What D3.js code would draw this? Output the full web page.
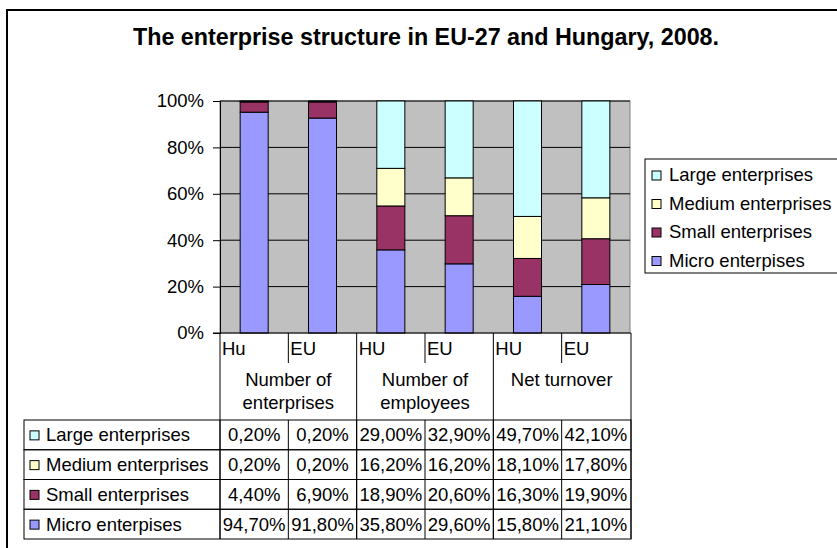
<!DOCTYPE html>
<html lang="en">
  <head>
    <meta charset="utf-8" />
    <title>Enterprise structure</title>
    <script src="https://d3js.org/d3.v7.min.js"></script>
    <style>
      body { margin: 0; background: white; }
      text { font-family: "Liberation Sans", Arial, sans-serif; fill: black; }
    </style>
  </head>
  <body>
    <div id="chart"></div>
    <script>
      // data
      var categories = ["Hu", "EU", "HU", "EU", "HU", "EU"];
      var groups = [["Number of", "enterprises"], ["Number of", "employees"], ["Net turnover"]];
      var seriesNames = ["Micro enterpises", "Small enterprises", "Medium enterprises", "Large enterprises"];
      var micro = [94.7, 91.8, 35.8, 29.6, 15.8, 21.1];
      var small = [4.4, 6.9, 18.9, 20.6, 16.3, 19.9];
      var medium = [0.2, 0.2, 16.2, 16.2, 18.1, 17.8];
      var large = [0.2, 0.2, 29.0, 32.9, 49.7, 42.1];
      var yTicks = [0, 0.2, 0.4, 0.6, 0.8, 1];

      var colors = ["#9999FF", "#993366", "#FFFFCC", "#CCFFFF"];
      var values = [micro, small, medium, large];

      var rows = categories.map(function (c, i) {
        var r = { i: i };
        seriesNames.forEach(function (s, k) { r[s] = values[k][i]; });
        return r;
      });

      var width = 837, height = 548;
      var plotL = 220, plotR = 630, plotT = 101, plotB = 333;
      var tableLeft = 24;
      var rowTop = 420, rowH = 29.75;
      var fs = "18.5px";

      var svg = d3.select("#chart").append("svg")
        .attr("width", width).attr("height", height);

      // outer frame (cut off on right and bottom)
      svg.append("rect")
        .attr("x", 7).attr("y", 10)
        .attr("width", 900).attr("height", 600)
        .attr("fill", "white").attr("stroke", "black").attr("stroke-width", 2);

      svg.append("text")
        .attr("x", 426).attr("y", 45)
        .attr("text-anchor", "middle")
        .style("font-size", "23.3px").style("font-weight", "bold")
        .text("The enterprise structure in EU-27 and Hungary, 2008.");

      var x = d3.scaleBand().domain(d3.range(categories.length)).range([plotL, plotR]).padding(0);
      var y = d3.scaleLinear().domain([0, 1]).range([plotB, plotT]);
      var barW = x.bandwidth() * 0.41;

      // plot area
      svg.append("rect")
        .attr("x", plotL).attr("y", plotT)
        .attr("width", plotR - plotL).attr("height", plotB - plotT)
        .attr("fill", "#C0C0C0").attr("stroke", "#808080");

      // gridlines
      svg.append("g").selectAll("line").data(yTicks.slice(1)).join("line")
        .attr("x1", plotL).attr("x2", plotR)
        .attr("y1", function (d) { return y(d); })
        .attr("y2", function (d) { return y(d); })
        .attr("stroke", "black").attr("stroke-width", 1);

      var yAxis = svg.append("g")
        .attr("transform", "translate(" + plotL + ",0)")
        .call(d3.axisLeft(y).tickValues(yTicks).tickFormat(d3.format(".0%")).tickSize(7).tickPadding(9));
      yAxis.select(".domain").attr("stroke", "black");
      yAxis.selectAll("text").style("font-size", fs)
        .style("font-family", "'Liberation Sans', Arial, sans-serif");

      var stack = d3.stack().keys(seriesNames).offset(d3.stackOffsetExpand);
      var stacked = stack(rows);

      svg.append("g").selectAll("g").data(stacked).join("g")
        .attr("fill", function (d, k) { return colors[k]; })
        .selectAll("rect").data(function (d) { return d; }).join("rect")
        .attr("x", function (d) { return x(d.data.i) + (x.bandwidth() - barW) / 2; })
        .attr("width", barW)
        .attr("y", function (d) { return y(d[1]); })
        .attr("height", function (d) { return y(d[0]) - y(d[1]); })
        .attr("stroke", "black").attr("stroke-width", 1);

      // axis line at 0%
      svg.append("line")
        .attr("x1", plotL - 7).attr("x2", plotR + 1)
        .attr("y1", plotB).attr("y2", plotB)
        .attr("stroke", "black");

      // data table
      var tbl = svg.append("g");
      var tableBottom = rowTop + rowH * seriesNames.length;

      // category labels
      tbl.selectAll("text.cat").data(categories).join("text")
        .attr("class", "cat")
        .attr("x", function (d, i) { return x(i) + 2; })
        .attr("y", 355)
        .style("font-size", fs)
        .text(function (d) { return d; });

      // short dividers within groups
      tbl.selectAll("line.short").data([1, 3, 5]).join("line")
        .attr("class", "short")
        .attr("x1", function (d) { return x(d); }).attr("x2", function (d) { return x(d); })
        .attr("y1", plotB).attr("y2", 363)
        .attr("stroke", "black");

      // group dividers
      tbl.selectAll("line.group").data([0, 2, 4, 6]).join("line")
        .attr("class", "group")
        .attr("x1", function (d) { return d < 6 ? x(d) : plotR + 1; })
        .attr("x2", function (d) { return d < 6 ? x(d) : plotR + 1; })
        .attr("y1", plotB).attr("y2", tableBottom)
        .attr("stroke", "black");

      // group labels
      groups.forEach(function (g, gi) {
        var cx = x(gi * 2) + x.bandwidth();
        g.forEach(function (line, li) {
          tbl.append("text")
            .attr("x", cx).attr("y", 386 + li * 23)
            .attr("text-anchor", "middle")
            .style("font-size", fs)
            .text(line);
        });
      });

      var fmt = d3.formatLocale({ decimal: ",", thousands: " ", grouping: [3], currency: ["", ""] }).format(".2f");
      var order = [3, 2, 1, 0];

      order.forEach(function (k, r) {
        var ry = rowTop + r * rowH;
        tbl.append("rect")
          .attr("x", tableLeft).attr("y", ry)
          .attr("width", plotR + 1 - tableLeft).attr("height", rowH)
          .attr("fill", "none").attr("stroke", "black");
        tbl.append("rect")
          .attr("x", 30).attr("y", ry + rowH / 2 - 4)
          .attr("width", 9).attr("height", 9)
          .attr("fill", colors[k]).attr("stroke", "black");
        tbl.append("text")
          .attr("x", 46).attr("y", ry + rowH / 2)
          .attr("dy", "0.35em")
          .style("font-size", fs)
          .text(seriesNames[k]);
        tbl.selectAll(null).data(values[k]).join("text")
          .attr("x", function (d, i) { return x(i) + x.bandwidth() / 2; })
          .attr("y", ry + rowH / 2)
          .attr("dy", "0.35em")
          .attr("text-anchor", "middle")
          .style("font-size", fs)
          .text(function (d) { return fmt(d) + "%"; });
      });

      // inner vertical cell borders in table rows
      tbl.selectAll("line.cell").data(d3.range(categories.length)).join("line")
        .attr("class", "cell")
        .attr("x1", function (d) { return x(d); }).attr("x2", function (d) { return x(d); })
        .attr("y1", rowTop).attr("y2", tableBottom)
        .attr("stroke", "black");

      // legend
      var lg = svg.append("g").attr("transform", "translate(645,159)");
      lg.append("rect")
        .attr("x", 0).attr("y", 0).attr("width", 260).attr("height", 114)
        .attr("fill", "white").attr("stroke", "black");
      order.forEach(function (k, r) {
        var ly = 16 + r * 28.5;
        lg.append("rect")
          .attr("x", 7).attr("y", ly - 4)
          .attr("width", 9).attr("height", 9)
          .attr("fill", colors[k]).attr("stroke", "black");
        lg.append("text")
          .attr("x", 24).attr("y", ly)
          .attr("dy", "0.35em")
          .style("font-size", fs)
          .text(seriesNames[k]);
      });
    </script>
  </body>
</html>
